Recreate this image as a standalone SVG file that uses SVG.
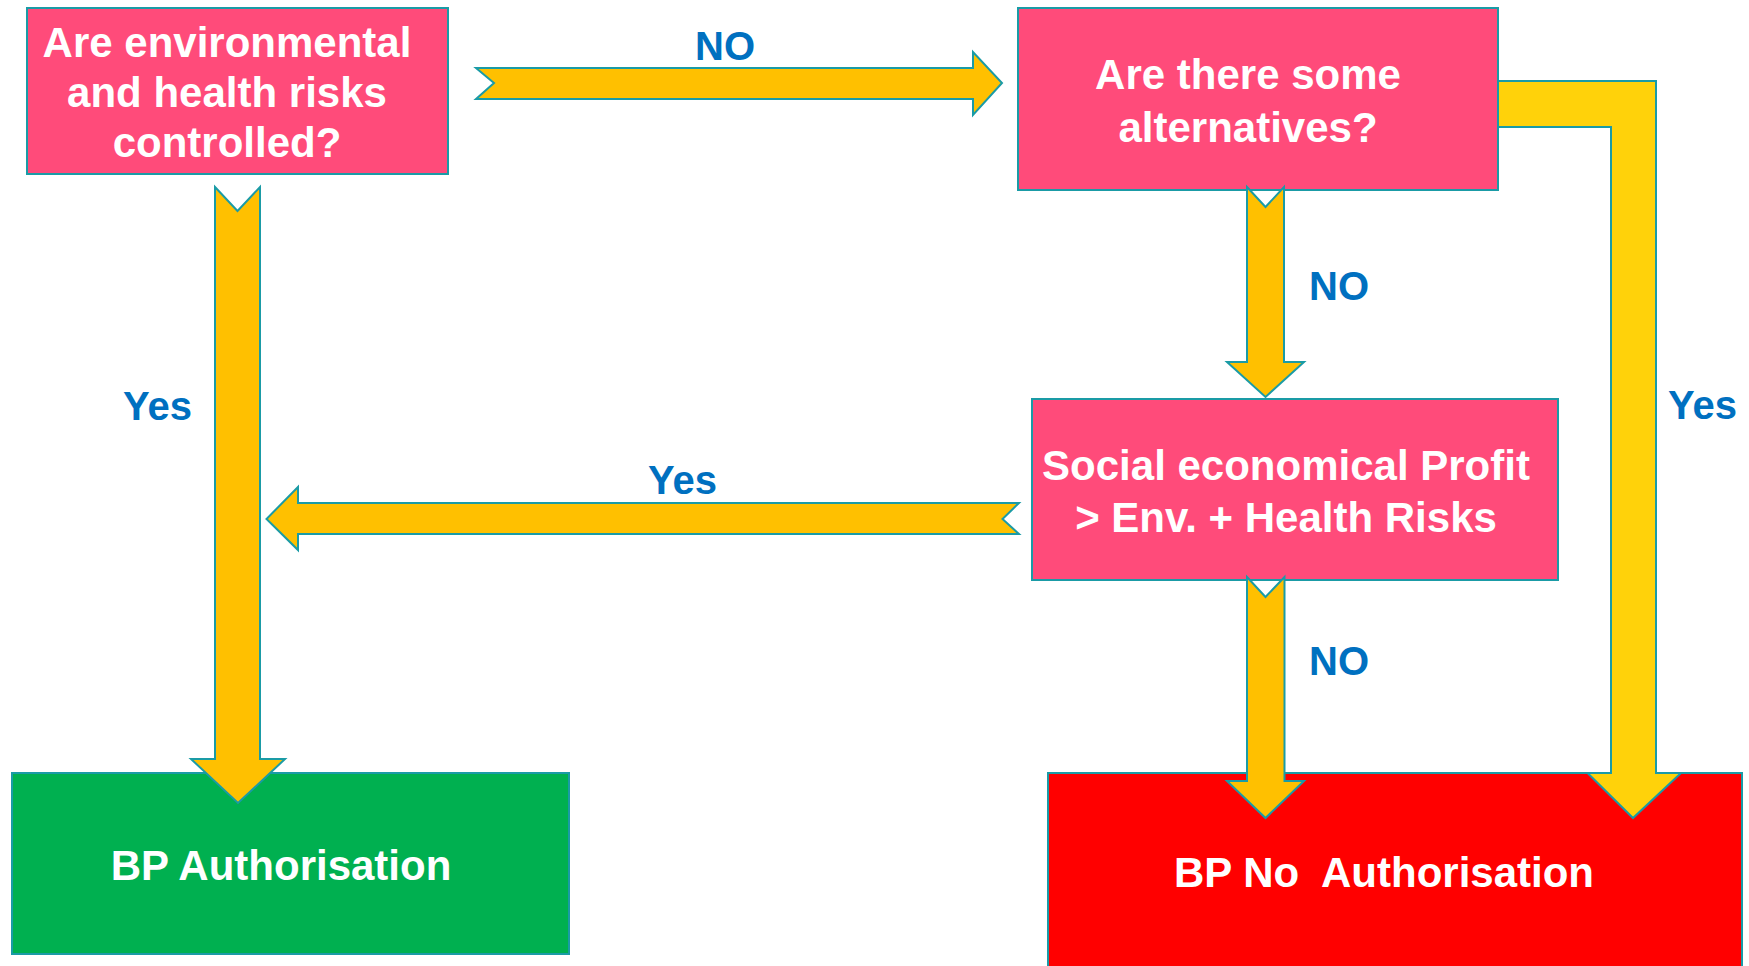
<svg xmlns="http://www.w3.org/2000/svg" width="1749" height="966" viewBox="0 0 1749 966">
<style>
.box{stroke:#1A9BA6;stroke-width:2}
.pink{fill:#FF4B7A}
.green{fill:#00B050}
.red{fill:#FF0000}
.t{font-family:"Liberation Sans",Arial,sans-serif;font-weight:bold;font-size:42px;fill:#FFFFFF;text-anchor:middle}
.lbl{font-family:"Liberation Sans",Arial,sans-serif;font-weight:bold;font-size:40px;fill:#0070C0}
.arr{fill:#FFC000;stroke:#1A9BA6;stroke-width:2;stroke-linejoin:miter}
.arr2{fill:#FFD20A;stroke:#1A9BA6;stroke-width:2}
</style>
<rect width="1749" height="966" fill="#FFFFFF"/>
<g id="node-controlled">
<rect class="box pink" x="27" y="8" width="421" height="166"/>
<text class="t" x="227" y="57">Are environmental</text>
<text class="t" x="227" y="107">and health risks</text>
<text class="t" x="227" y="157">controlled?</text>
</g>
<g id="node-alternatives">
<rect class="box pink" x="1018" y="8" width="480" height="182"/>
<text class="t" x="1248" y="89">Are there some</text>
<text class="t" x="1248" y="142">alternatives?</text>
</g>
<g id="node-profit">
<rect class="box pink" x="1032" y="399" width="526" height="181"/>
<text class="t" x="1286" y="480">Social economical Profit</text>
<text class="t" x="1286" y="532">&gt; Env. + Health Risks</text>
</g>
<g id="node-authorisation">
<rect class="box green" x="12" y="773" width="557" height="181"/>
<text class="t" x="281" y="880">BP Authorisation</text>
</g>
<g id="node-no-authorisation">
<rect class="box red" x="1048" y="773" width="694" height="200"/>
<text class="t" x="1384" y="887" xml:space="preserve">BP No  Authorisation</text>
</g>
<g id="connectors">
<polygon class="arr" points="476,68 973,68 973,52 1002,83 973,115 973,99 476,99 494,83"/>
<polygon class="arr" points="215,187 237.5,211 260,187 260,759 285,759 238,803 191,759 215,759"/>
<polygon class="arr" points="1247,187 1265.5,207 1284,187 1284,362 1304,362 1265.5,397 1227,362 1247,362"/>
<polygon class="arr" points="1019,503 298,503 298,487 266.5,519 298,550 298,534 1019,534 1002.5,519"/>
<polygon class="arr" points="1247,577 1265.5,597 1284.5,577 1284.5,781 1304,781 1265.5,818 1227,781 1247,781"/>
<polygon class="arr2" points="1498,81 1656,81 1656,773 1681,773 1633,818 1587.5,773 1611,773 1611,127 1498,127"/>
</g>
<g id="labels">
<text class="lbl" x="695" y="60">NO</text>
<text class="lbl" x="1309" y="300">NO</text>
<text class="lbl" x="1309" y="675">NO</text>
<text class="lbl" x="123" y="420">Yes</text>
<text class="lbl" x="648" y="494">Yes</text>
<text class="lbl" x="1668" y="419">Yes</text>
</g>
</svg>
